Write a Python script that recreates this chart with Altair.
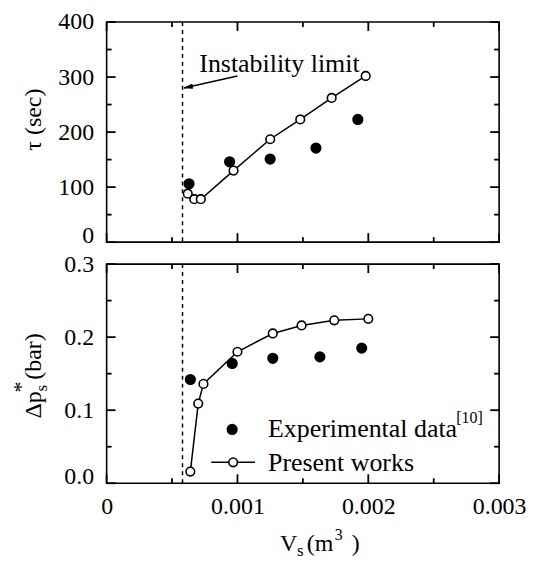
import altair as alt
import pandas as pd

# ---------------- data ----------------
x_tau_model = [0.00062, 0.00067, 0.00072, 0.00097, 0.00125, 0.00148, 0.00172, 0.00198]
tau_model = [88, 78, 78, 130, 187, 223, 262, 302]
x_tau_exp = [0.00063, 0.00094, 0.00125, 0.00160, 0.00192]
tau_exp = [106, 146, 151, 171, 223]

x_dp_model = [0.00064, 0.00070, 0.00074, 0.00100, 0.00127, 0.00149, 0.00174, 0.00200]
dp_model = [0.016, 0.109, 0.136, 0.180, 0.205, 0.216, 0.223, 0.225]
x_dp_exp = [0.00064, 0.00096, 0.00127, 0.00163, 0.00195]
dp_exp = [0.142, 0.164, 0.171, 0.173, 0.185]

instability_x = [0.00058]
arrow_from = [0.00100, 302]
arrow_to = [0.00059, 280]

x_domain = [0, 0.003]
tau_domain = [0, 400]
dp_domain = [0, 0.3]
x_major = [0.0, 0.001, 0.002, 0.003]
x_minor = [0.0005, 0.0015, 0.0025]
tau_major = [0, 100, 200, 300, 400]
tau_minor = [50, 150, 250, 350]
dp_major = [0.0, 0.1, 0.2, 0.3]
dp_minor = [0.05, 0.15, 0.25]

legend_labels = ["Experimental data", "Present works"]
legend_ref = "[10]"
annotation = "Instability limit"

FONT = "Liberation Serif"
W = 394
H1 = 221
H2 = 220
MAJ = 9   # tick lengths in pixels
MIN = 5

xs = alt.Scale(domain=x_domain, nice=False, zero=False)
ys_tau = alt.Scale(domain=tau_domain, nice=False)
ys_dp = alt.Scale(domain=dp_domain, nice=False)

zero_up = {"condition": {"test": "datum.value == 0", "value": "alphabetic"}, "value": "middle"}

yaxis_tau = alt.Axis(values=tau_major, format="d", ticks=False, domain=False, grid=False,
                     labelPadding=13, title=None, labelBaseline=zero_up)
yaxis_dp = alt.Axis(values=dp_major, format=".1f", ticks=False, domain=False, grid=False,
                    labelPadding=13, title=None, labelBaseline=zero_up)
xaxis_top = alt.Axis(values=x_major, ticks=False, domain=False, grid=False, labels=False,
                     title=None)
xaxis_bottom = alt.Axis(values=x_major, ticks=False, domain=False, grid=False,
                        labelExpr="datum.value == 0 ? '0' : format(datum.value, '.3f')",
                        labelPadding=11, labelFlush=False, title=None)


def tick_frame(ys, ydom, yax, xax, ymaj, ymin, H):
    """Inward tick marks on all four sides, built from the tick value lists."""
    xr = x_domain[1] - x_domain[0]
    yr = ydom[1] - ydom[0]
    x0, x1, y0, y1 = [], [], [], []
    for vals, ln in ((ymaj, MAJ), (ymin, MIN)):
        dx = ln / W * xr
        for v in vals:
            x0 += [x_domain[0], x_domain[1]]
            x1 += [x_domain[0] + dx, x_domain[1] - dx]
            y0 += [v, v]
            y1 += [v, v]
    for vals, ln in ((x_major, MAJ), (x_minor, MIN)):
        dy = ln / H * yr
        for v in vals:
            x0 += [v, v]
            x1 += [v, v]
            y0 += [ydom[0], ydom[1]]
            y1 += [ydom[0] + dy, ydom[1] - dy]
    d = pd.DataFrame({"tx0": x0, "tx1": x1, "ty0": y0, "ty1": y1})
    return alt.Chart(d).mark_rule(color="black", strokeWidth=1.8, opacity=1).encode(
        x=alt.X("tx0:Q", scale=xs, axis=xax), x2=alt.X2("tx1:Q"),
        y=alt.Y("ty0:Q", scale=ys, axis=yax), y2=alt.Y2("ty1:Q"))


def dashed(xax):
    return alt.Chart(pd.DataFrame({"x": instability_x})).mark_rule(
        color="black", strokeWidth=1.5, strokeDash=[4, 4]).encode(
        x=alt.X("x:Q", scale=xs, axis=xax))


def series(xv, yv, ys, yax, xax):
    dm = pd.DataFrame({"x": xv[0], "y": yv[0]})
    de = pd.DataFrame({"x": xv[1], "y": yv[1]})
    exp = alt.Chart(de).mark_point(shape="circle", filled=True, fill="black",
                                   stroke="black", size=85, opacity=1).encode(
        x=alt.X("x:Q", scale=xs, axis=xax), y=alt.Y("y:Q", scale=ys, axis=yax))
    line = alt.Chart(dm).mark_line(color="black", strokeWidth=1.5).encode(
        x=alt.X("x:Q", scale=xs, axis=xax), y=alt.Y("y:Q", scale=ys, axis=yax))
    pts = alt.Chart(dm).mark_point(shape="circle", filled=True, fill="white",
                                   stroke="black", strokeWidth=1.6, size=75, opacity=1).encode(
        x=alt.X("x:Q", scale=xs, axis=xax), y=alt.Y("y:Q", scale=ys, axis=yax))
    return [exp, line, pts]


def txt(s, x, y, size=24, angle=None, align="left", baseline="alphabetic"):
    kw = dict(font=FONT, fontSize=size, color="black", align=align, baseline=baseline)
    if angle is not None:
        kw["angle"] = angle
    return alt.Chart(pd.DataFrame({"t": [s]})).mark_text(**kw).encode(
        text="t:N", x=alt.value(x), y=alt.value(y))


# ---------------- top panel ----------------
arrow_df = pd.DataFrame({"x0": [arrow_from[0]], "y0": [arrow_from[1]],
                         "x1": [arrow_to[0]], "y1": [arrow_to[1]]})
arrow_line = alt.Chart(arrow_df).mark_rule(color="black", strokeWidth=1.4).encode(
    x=alt.X("x0:Q", scale=xs, axis=xaxis_top), y=alt.Y("y0:Q", scale=ys_tau, axis=yaxis_tau),
    x2="x1:Q", y2="y1:Q")
arrow_head = alt.Chart(arrow_df).mark_point(
    shape="M 0 0 L 2.4 -0.6 L 2.4 0.6 Z", filled=True, fill="black", stroke="black",
    strokeWidth=0.5, size=55, angle=348, opacity=1).encode(
    x=alt.X("x1:Q", scale=xs, axis=xaxis_top), y=alt.Y("y1:Q", scale=ys_tau, axis=yaxis_tau))

top_layers = series((x_tau_model, x_tau_exp), (tau_model, tau_exp), ys_tau, yaxis_tau, xaxis_top)
top_layers += [dashed(xaxis_top), arrow_line, arrow_head]
top_layers += [txt(annotation, 93, 50, size=26),
               txt("\u03c4 (sec)", -66, 98, size=24, angle=270, align="center")]
top_layers += [tick_frame(ys_tau, tau_domain, yaxis_tau, xaxis_top, tau_major, tau_minor, H1)]
top = alt.layer(*top_layers).properties(width=W, height=H1)

# ---------------- bottom panel ----------------
leg_e = alt.Chart(pd.DataFrame({"t": [legend_labels[0]]})).mark_point(
    shape="circle", filled=True, fill="black", stroke="black", size=85, opacity=1).encode(
    x=alt.value(126), y=alt.value(166))
leg_line = alt.Chart(pd.DataFrame({"t": [legend_labels[1]]})).mark_rule(
    color="black", strokeWidth=1.5).encode(x=alt.value(105), x2=alt.value(149), y=alt.value(199))
leg_p = alt.Chart(pd.DataFrame({"t": [legend_labels[1]]})).mark_point(
    shape="circle", filled=True, fill="white", stroke="black", strokeWidth=1.6, size=75,
    opacity=1).encode(x=alt.value(127), y=alt.value(199))

bot_layers = series((x_dp_model, x_dp_exp), (dp_model, dp_exp), ys_dp, yaxis_dp, xaxis_bottom)
bot_layers += [dashed(xaxis_bottom)]
bot_layers += [leg_e, leg_line, leg_p,
               txt(legend_labels[0], 162, 174, size=26),
               txt(legend_ref, 351, 160, size=16),
               txt(legend_labels[1], 162, 208, size=26),
               # y title: Δp*_s (bar)
               txt("\u0394p", -66, 155, size=24, angle=270),
               txt("s", -60, 128, size=17, angle=270),
               txt("*", -79, 129, size=22, angle=270),
               txt("(bar)", -66, 116, size=24, angle=270),
               # x title: V_s (m^3)
               txt("V", 174, 288, size=24),
               txt("s", 191, 293, size=17),
               txt("(m", 201, 288, size=24),
               txt("3", 229, 277, size=16),
               txt(")", 246, 288, size=24)]
bot_layers += [tick_frame(ys_dp, dp_domain, yaxis_dp, xaxis_bottom, dp_major, dp_minor, H2)]
bottom = alt.layer(*bot_layers).properties(width=W, height=H2)

chart = alt.vconcat(top, bottom, spacing=22, bounds="flush").properties(
    padding={"left": 1, "top": 0, "right": 5, "bottom": 2},
    background="white"
).configure_axis(
    labelFont=FONT, labelFontSize=24, labelColor="black", grid=False
).configure_view(
    stroke="black", strokeWidth=1.6
)

chart.save("out.html", embed_options={"renderer": "svg", "actions": False})
